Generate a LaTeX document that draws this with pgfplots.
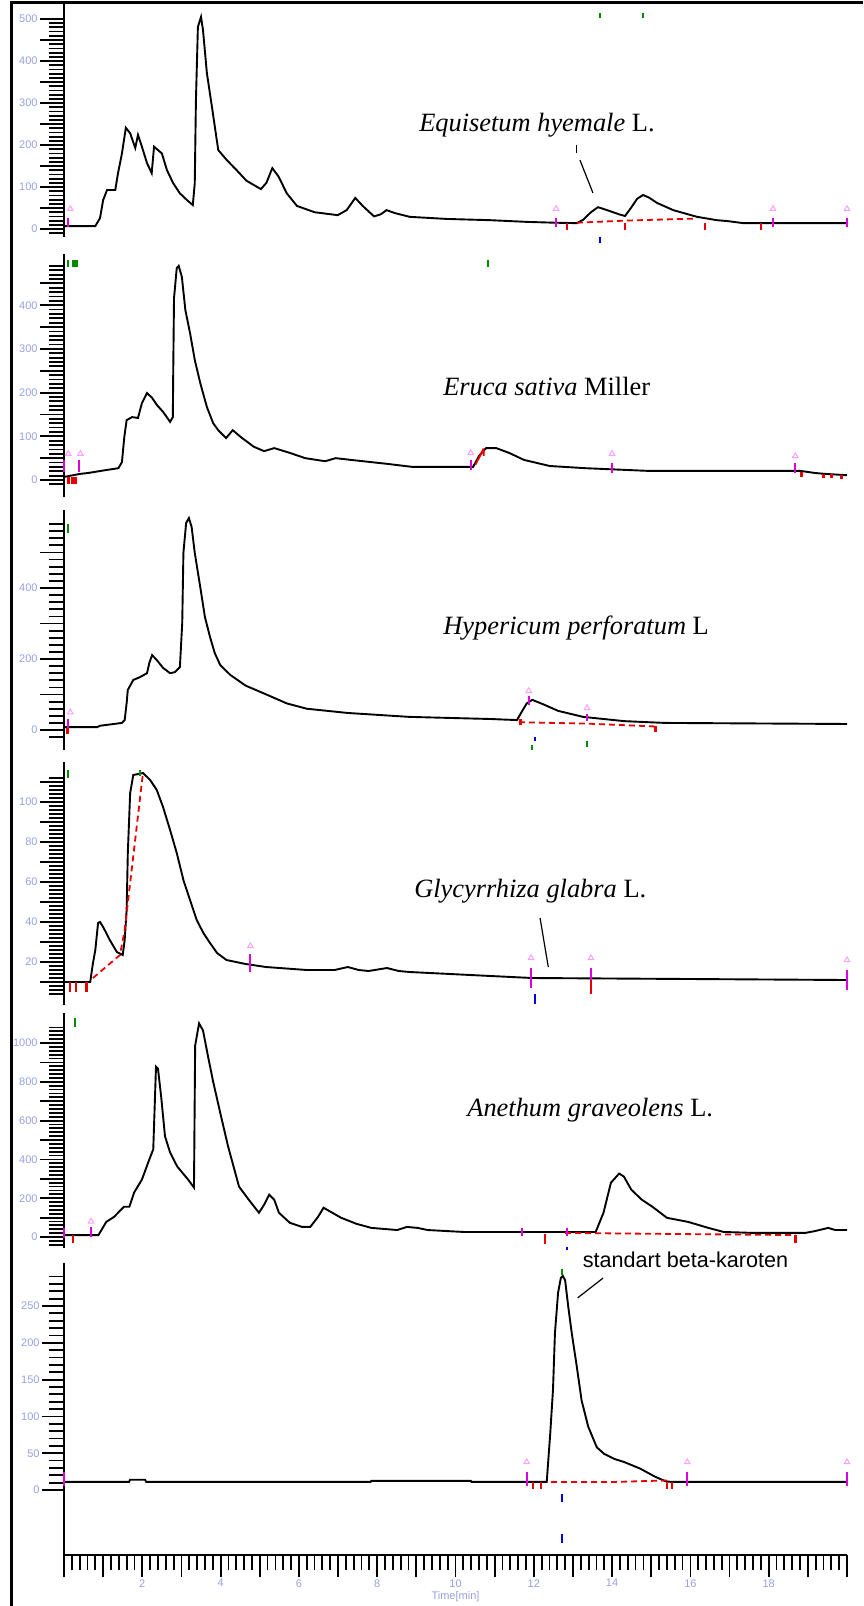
\documentclass[border=0pt]{standalone}
\usepackage{pgfplots}
\pgfplotsset{compat=1.18}
\usepackage{fontspec}
\setmainfont{Liberation Serif}
\setsansfont{Liberation Sans}
\definecolor{lav}{RGB}{150,160,225}
\definecolor{mag}{RGB}{220,0,220}
\definecolor{rd}{RGB}{230,0,0}
\definecolor{gr}{RGB}{0,140,0}
\definecolor{bl}{RGB}{0,0,230}
\definecolor{pk}{RGB}{255,160,255}
\tikzset{lab/.style={font=\fontsize{13.2}{15}\selectfont, anchor=base, inner sep=0pt}}
\pgfplotsset{
  panel/.style={
    scale only axis, width=391.5pt, xmin=0, xmax=20,
    axis y line=left, axis line style={-, line width=1pt},
    tick align=outside, major tick length=12pt, minor tick length=7.5pt,
    tick style={black, line width=0.9pt},
    yticklabel style={font=\sffamily\fontsize{5.5}{6}\selectfont, text=lav, inner sep=1pt},
    /pgf/number format/assume math mode=true,
    clip=false, anchor=south west,
  },
  sig/.style={black, line width=0.95pt, mark=none},
  magt/.style={mag, line width=0.9pt, mark=none, unbounded coords=jump},
  redt/.style={rd, line width=0.9pt, mark=none, unbounded coords=jump},
  grt/.style={gr, line width=0.9pt, mark=none, unbounded coords=jump},
  blt/.style={bl, line width=0.9pt, mark=none, unbounded coords=jump},
  rdash/.style={rd, line width=0.9pt, mark=none, dash pattern=on 3pt off 2pt},
  tri/.style={only marks, mark=triangle, mark size=1.6pt, pk, mark options={line width=0.5pt}},
}
\begin{document}
\begin{tikzpicture}
\path[use as bounding box] (0,0) rectangle (431.5pt,-803pt);
\draw[line width=1.35pt] (431.5pt,-1.35pt) -- (5.85pt,-1.35pt) -- (5.85pt,-803pt);

% ---------------- Panel 1 : Equisetum hyemale
\begin{axis}[panel, axis x line=none, at={(32pt,-118.5pt)}, height=116.5pt, ymin=-19, ymax=535.7,
  ytick={0,50,...,500}, yticklabels={0,,100,,200,,300,,400,,500}, minor ytick={-10,0,...,500}]
\addplot[sig] coordinates {(0,7) (0.80,7) (0.92,26) (1.00,69) (1.10,93) (1.31,93) (1.38,133) (1.48,180) (1.58,241) (1.69,228) (1.82,193) (1.89,224) (1.99,196) (2.12,157) (2.24,133) (2.30,196) (2.50,180) (2.63,140) (2.79,109) (2.96,85) (3.14,69) (3.29,57) (3.34,109) (3.37,307) (3.42,481) (3.50,505) (3.55,474) (3.65,371) (3.78,290) (3.94,188) (4.15,165) (4.38,143) (4.66,115) (5.03,95) (5.17,110) (5.32,145) (5.48,125) (5.69,85) (5.95,55) (6.40,40) (6.99,33) (7.22,45) (7.44,74) (7.63,55) (7.92,30) (8.09,35) (8.24,45) (8.45,38) (8.83,29) (9.78,24) (10.90,21) (11.82,17) (12.54,15) (13.10,14) (13.26,22) (13.46,40) (13.64,52) (13.87,45) (14.18,35) (14.33,31) (14.48,50) (14.64,72) (14.79,81) (14.94,75) (15.15,62) (15.56,45) (16.17,29) (16.68,21) (16.94,19) (17.35,14) (20.0,14)};
\addplot[rdash] coordinates {(13.10,15) (14.33,20) (16.17,25)};
\addplot[magt] coordinates {(0.11,26) (0.11,5) (0.11,nan) (12.57,26) (12.57,5) (12.57,nan) (18.11,26) (18.11,5) (18.11,nan) (20.0,26) (20.0,5)};
\addplot[tri] coordinates {(0.16,48) (12.57,48) (18.11,48) (20.0,48)};
\addplot[redt] coordinates {(12.85,14) (12.85,-2) (12.85,nan) (14.33,14) (14.33,-2) (14.33,nan) (16.38,14) (16.38,-2) (16.38,nan) (17.81,14) (17.81,-2)};
\addplot[blt] coordinates {(13.70,-19) (13.70,-33)};
\addplot[grt] coordinates {(13.70,514) (13.70,502) (13.70,nan) (14.79,514) (14.79,502)};
\node[lab] at (axis cs:12.08,231) {\textit{Equisetum hyemale} L.};
\draw[line width=0.6pt] (axis cs:13.10,200) -- (axis cs:13.10,182);
\draw[line width=0.6pt] (axis cs:13.18,164) -- (axis cs:13.51,86);
\end{axis}

% ---------------- Panel 2 : Eruca sativa
\begin{axis}[panel, axis x line=none, at={(32pt,-248.5pt)}, height=121.5pt, ymin=-38.9, ymax=517.2,
  ytick={0,50,...,450}, yticklabels={0,,100,,200,,300,,400,}, minor ytick={-10,0,...,490}]
\addplot[sig] coordinates {(0,7) (0.41,14) (0.61,16) (1.09,23) (1.39,27) (1.48,41) (1.54,98) (1.60,137) (1.74,144) (1.89,142) (1.99,176) (2.12,199) (2.25,188) (2.37,172) (2.53,156) (2.71,133) (2.78,144) (2.79,247) (2.81,416) (2.88,485) (2.93,490) (3.01,465) (3.10,389) (3.22,336) (3.34,275) (3.48,222) (3.65,167) (3.81,130) (3.94,114) (4.14,96) (4.31,114) (4.52,98) (4.85,76) (5.11,66) (5.37,73) (5.77,62) (6.16,50) (6.67,43) (6.94,50) (7.33,46) (8.25,37) (8.90,30) (10.45,30) (10.60,55) (10.78,73) (11.04,73) (11.37,62) (11.75,46) (12.41,32) (13.33,27) (14.89,21) (18.80,21) (19.19,16) (19.44,14) (20.0,11)};
\addplot[magt] coordinates {(0.0,45) (0.0,18) (0.0,nan) (0.39,45) (0.39,18) (0.39,nan) (10.39,45) (10.39,22) (10.39,nan) (14.00,40) (14.00,15) (14.00,nan) (18.68,40) (18.68,15)};
\addplot[tri] coordinates {(0.11,60) (0.42,60) (10.39,62) (14.00,60) (18.68,55)};
\addplot[redt, line width=1.5pt] coordinates {(0.12,8) (0.12,-8) (0.12,nan) (0.22,8) (0.22,-8) (0.22,nan) (0.30,8) (0.30,-8) (0.30,nan) (18.83,18) (18.83,6) (18.83,nan) (19.39,14) (19.39,4) (19.39,nan) (19.60,13) (19.60,4) (19.60,nan) (19.85,12) (19.85,3)};
\addplot[redt] coordinates {(10.51,35) (10.72,72) (10.72,nan) (10.72,72) (10.72,55)};
\addplot[grt] coordinates {(0.11,503) (0.11,487) (0.11,nan) (10.83,503) (10.83,487)};
\addplot[grt, line width=3pt] coordinates {(0.28,503) (0.28,487)};
\node[lab] at (axis cs:12.33,194.5) {\textit{Eruca sativa} Miller};
\end{axis}

% ---------------- Panel 3 : Hypericum perforatum
\begin{axis}[panel, axis x line=none, at={(32pt,-375pt)}, height=120pt, ymin=-56.3, ymax=619.7,
  ytick={0,100,...,500}, yticklabels={0,,200,,400,}, minor ytick={-20,0,...,580}]
\addplot[sig] coordinates {(0,8) (0.85,8) (0.92,12) (1.48,20) (1.55,28) (1.60,76) (1.63,113) (1.77,141) (1.94,149) (2.12,160) (2.18,189) (2.25,211) (2.37,197) (2.53,175) (2.71,160) (2.83,163) (2.96,177) (3.02,301) (3.05,499) (3.12,583) (3.19,597) (3.26,572) (3.34,499) (3.48,403) (3.60,318) (3.73,262) (3.85,217) (3.99,183) (4.25,155) (4.64,125) (5.17,100) (5.69,75) (6.20,60) (7.25,48) (8.82,37) (10.90,31) (11.57,28) (11.70,53) (11.82,75) (11.96,85) (12.23,73) (12.62,54) (13.26,37) (14.31,25) (15.35,20) (20.0,17)};
\addplot[rdash] coordinates {(11.62,22) (13.36,18) (15.10,10)};
\addplot[magt] coordinates {(0.11,30) (0.11,5) (0.11,nan) (11.87,95) (11.87,70) (11.87,nan) (13.36,45) (13.36,25)};
\addplot[tri] coordinates {(0.16,50) (11.87,110) (13.36,62)};
\addplot[redt, line width=1.5pt] coordinates {(0.09,5) (0.09,-10) (0.09,nan) (11.67,30) (11.67,15) (11.67,nan) (15.10,12) (15.10,-5)};
\addplot[blt] coordinates {(12.03,-20) (12.03,-32)};
\addplot[grt] coordinates {(11.95,-42) (11.95,-56) (11.95,nan) (13.36,-30) (13.36,-48) (13.36,nan) (0.11,580) (0.11,555)};
\node[lab] at (axis cs:13.08,270) {\textit{Hypericum perforatum} L};
\end{axis}

% ---------------- Panel 4 : Glycyrrhiza glabra
\begin{axis}[panel, axis x line=none, at={(32pt,-502.5pt)}, height=121.5pt, ymin=-1.5, ymax=120,
  ytick={10,20,...,110}, yticklabels={,20,,40,,60,,80,,100,}, minor ytick={4,6,...,112}]
\addplot[sig] coordinates {(0,10) (0.67,10) (0.74,19.5) (0.80,26) (0.87,39.5) (0.92,40) (1.00,37.5) (1.17,31) (1.35,25) (1.50,23.5) (1.55,31) (1.60,46) (1.63,74.5) (1.69,104.5) (1.77,113.5) (2.02,114.5) (2.20,111) (2.37,106) (2.53,97.5) (2.71,86) (2.88,74.5) (3.05,61) (3.22,51) (3.39,41) (3.56,34.5) (3.73,29.5) (3.91,24.5) (4.15,21) (4.64,19) (5.16,17.5) (6.20,16) (6.91,16) (7.25,17.5) (7.53,16) (7.78,15.5) (8.25,17) (8.55,15.5) (8.83,15) (10.90,13) (11.96,12) (20.0,11)};
\addplot[rdash] coordinates {(0.74,12) (1.43,23.5) (1.55,36) (2.02,115)};
\addplot[magt] coordinates {(4.76,24) (4.76,15) (4.76,nan) (11.93,17) (11.93,7) (11.93,nan) (13.46,17) (13.46,7) (13.46,nan) (20.0,16) (20.0,6)};
\addplot[tri] coordinates {(4.76,28) (11.93,22) (13.46,22) (20.0,21)};
\addplot[redt, line width=1.2pt] coordinates {(0.16,10) (0.16,5) (0.16,nan) (0.31,10) (0.31,5) (0.31,nan) (0.57,10) (0.57,5) (0.57,nan) (13.46,11) (13.46,4)};
\addplot[blt] coordinates {(12.03,4) (12.03,-1)};
\addplot[grt] coordinates {(1.95,116) (1.95,113) (1.95,nan) (0.11,116) (0.11,112)};
\node[lab] at (axis cs:11.91,52.5) {\textit{Glycyrrhiza glabra} L.};
\draw[line width=0.6pt] (axis cs:12.16,42) -- (axis cs:12.37,17.5);
\end{axis}

% ---------------- Panel 5 : Anethum graveolens
\begin{axis}[panel, axis x line=none, at={(32pt,-624pt)}, height=117.5pt, ymin=-56.7, ymax=1154.6,
  ytick={0,100,...,1000}, yticklabels={0,,200,,400,,600,,800,,1000}, minor ytick={-40,-20,...,1080}]
\addplot[sig] coordinates {(0,10) (0.88,10) (1.08,78) (1.28,104) (1.53,156) (1.67,156) (1.79,229) (1.99,296) (2.18,400) (2.28,452) (2.35,878) (2.40,868) (2.48,727) (2.58,519) (2.71,436) (2.89,364) (3.17,296) (3.32,255) (3.35,987) (3.45,1101) (3.55,1065) (3.68,930) (3.81,800) (4.01,623) (4.19,468) (4.47,260) (4.72,192) (4.98,125) (5.11,166) (5.24,218) (5.37,192) (5.49,125) (5.77,73) (6.08,52) (6.29,52) (6.49,104) (6.63,151) (6.81,130) (7.08,99) (7.47,68) (7.85,47) (8.51,36) (8.76,52) (9.03,47) (9.29,36) (10.21,26) (12.93,26) (13.58,26) (13.78,125) (13.97,280) (14.18,327) (14.30,312) (14.49,244) (14.76,192) (15.03,156) (15.40,99) (15.94,78) (16.46,47) (16.85,26) (17.63,21) (18.93,21) (19.19,31) (19.52,47) (19.70,36) (20.0,36)};
\addplot[rdash] coordinates {(12.80,21) (15.40,16) (18.68,10)};
\addplot[magt] coordinates {(0.0,45) (0.0,-5) (0.0,nan) (0.69,50) (0.69,0) (0.69,nan) (11.70,45) (11.70,5) (11.70,nan) (12.85,45) (12.85,5)};
\addplot[tri] coordinates {(0.69,80)};
\addplot[redt, line width=1.2pt] coordinates {(0.23,10) (0.23,-30) (0.23,nan) (12.28,15) (12.28,-35) (12.28,nan) (18.68,10) (18.68,-30)};
\addplot[blt] coordinates {(12.85,-50) (12.85,-65)};
\addplot[grt] coordinates {(0.28,1130) (0.28,1085)};
\node[lab] at (axis cs:13.44,623) {\textit{Anethum graveolens} L.};
\end{axis}

% ---------------- Panel 6 : standard beta-carotene
\begin{axis}[panel, at={(32pt,-777.5pt)}, height=146pt, ymin=-88.3, ymax=308.4,
  axis x line=bottom, axis line style={-, line width=1pt},
  tick align=outside, major tick length=11pt,
  ytick={0,50,...,250}, yticklabels={0,50,100,150,200,250}, minor ytick={0,10,...,290},
  xtick={0,1,...,20}, xticklabels={,,2,,4,,6,,8,,10,,12,,14,,16,,18,,},
  minor xtick={0,0.2,...,20},
  xticklabel style={font=\sffamily\fontsize{5.5}{6}\selectfont, text=lav, inner sep=1pt},
  xlabel={Time[min]}, xlabel style={font=\sffamily\fontsize{5.5}{6}\selectfont, text=lav, inner sep=1pt}]
\addplot[sig] coordinates {(0,11) (1.66,11) (1.69,14) (2.07,14) (2.10,11) (7.83,11) (7.85,12.5) (10.39,12.5) (10.41,11) (12.33,11) (12.42,77) (12.49,136) (12.54,213) (12.62,268) (12.69,288) (12.74,291) (12.80,285) (12.88,249) (12.97,213) (13.10,167) (13.22,122) (13.39,86) (13.61,58) (13.80,49) (14.07,42) (14.31,38) (14.72,29) (15.10,18) (15.36,12) (15.51,11) (20.0,11)};
\addplot[rdash] coordinates {(12.44,11) (14.07,11) (15.40,13)};
\addplot[magt] coordinates {(0.0,25) (0.0,5) (0.0,nan) (11.82,25) (11.82,5) (11.82,nan) (15.92,25) (15.92,5) (15.92,nan) (20.0,25) (20.0,5)};
\addplot[tri] coordinates {(11.82,38) (15.92,38) (20.0,38)};
\addplot[redt] coordinates {(11.98,11) (11.98,2) (11.98,nan) (12.18,11) (12.18,2) (12.18,nan) (15.40,11) (15.40,2) (15.40,nan) (15.53,11) (15.53,2)};
\addplot[blt] coordinates {(12.72,-6) (12.72,-16) (12.72,nan) (12.72,-60) (12.72,-72)};
\addplot[grt] coordinates {(12.72,300) (12.72,292)};
\node[font=\sffamily\fontsize{10.8}{12}\selectfont, anchor=base west, inner sep=0pt] at (axis cs:13.24,302) {standart beta-karoten};
\draw[line width=0.6pt] (axis cs:13.12,261) -- (axis cs:13.77,288);
\end{axis}
\end{tikzpicture}
\end{document}
